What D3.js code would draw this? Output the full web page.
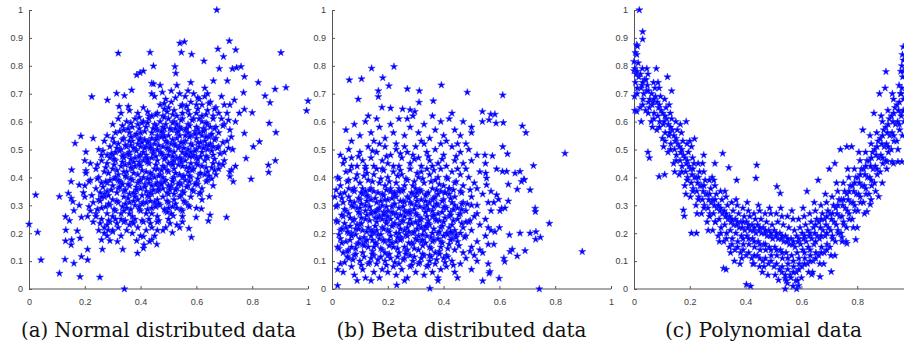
<!DOCTYPE html>
<html>
<head>
<meta charset="utf-8">
<script src="https://cdn.jsdelivr.net/npm/d3@7"></script>
<style>
  body { margin: 0; background: #fff; }
  svg text.caption { font-family: "DejaVu Serif", "Liberation Serif", "Noto Serif", "Tinos", "Times New Roman", Times, serif; }
</style>
</head>
<body>
<svg id="chart" width="904" height="342"></svg>
<script>
// (a) normal distributed data: outliers first, then the dense core
const normalData = [
  [.673,1.0],[0,.232],[.024,.337],[.031,.203],[.043,.104],[.109,.331],[.109,.056],[.254,.042],[.183,.044],[.342,0],
  [.129,.106],[.161,.092],[.188,.116],[.21,.104],[.21,.142],[.131,.172],[.153,.176],[.151,.158],[.132,.211],[.173,.208],
  [.183,.182],[.145,.245],[.131,.259],[.188,.257],[.161,.281],[.141,.343],[.151,.325],[.157,.313],[.153,.427],[.151,.385],
  [.18,.373],[.165,.522],[.186,.548],[.204,.491],[.204,.424],[.204,.415],[.225,.689],[.32,.845],[.434,.848],[.446,.799],
  [.386,.767],[.398,.775],[.41,.781],[.314,.701],[.342,.693],[.368,.713],[.281,.677],[.323,.654],[.356,.654],[.44,.737],
  [.446,.735],[.478,.705],[.523,.797],[.526,.773],[.541,.881],[.557,.886],[.546,.848],[.583,.841],[.627,.817],[.677,.86],
  [.718,.889],[.697,.833],[.741,.857],[.729,.789],[.744,.793],[.76,.797],[.682,.79],[.711,.746],[.661,.746],[.772,.761],
  [.822,.74],[.846,.692],[.864,.668],[.882,.716],[.903,.847],[.921,.722],[.995,.639],[1,.674],[.861,.594],[.826,.528],
  [.804,.51],[.778,.468],[.796,.394],[.885,.561],[.883,.46],[.858,.444],[.859,.418],[.772,.558],[.8,.632],[.772,.644],
  [.754,.63],[.769,.704],[.736,.677],[.72,.403],[.732,.385],[.726,.427],[.708,.257],[.681,.448],[.646,.331],[.643,.244],
  [.649,.265],[.618,.287],[.599,.257],[.582,.185],[.573,.217],[.55,.24],[.54,.22],[.514,.202],[.49,.22],[.517,.262],
  [.458,.16],[.44,.176],[.432,.17],[.41,.188],[.41,.146],[.412,.158],[.389,.128],[.386,.173],[.336,.142],[.317,.17],
  [.29,.173],[.26,.176],[.263,.142],[.284,.211],[.27,.2],[.3,.205],
  [.44,.70],[.45,.69],[.47,.66],[.49,.68],[.51,.67],[.52,.64],[.54,.70],[.55,.66],[.56,.69],[.57,.64],[.58,.67],[.59,.70],
  [.60,.63],[.61,.68],[.62,.66],[.63,.69],[.64,.64],[.65,.67],[.66,.62],[.67,.65],[.46,.63],[.48,.62],[.50,.65],[.53,.62],
  [.55,.63],[.57,.71],[.60,.66],[.62,.62],[.64,.70],[.68,.63],[.70,.66],[.41,.65],[.39,.63],[.36,.64],[.43,.62],[.33,.63],
  [.51,.71],[.47,.73],[.53,.73],[.58,.74],[.63,.72],[.69,.69],[.71,.63],[.72,.66],
  [.30,.59],[.32,.61],[.34,.57],[.35,.60],[.37,.58],[.38,.61],[.40,.56],[.41,.60],[.42,.58],[.43,.61],[.44,.56],[.45,.59],
  [.46,.57],[.47,.60],[.48,.56],[.49,.59],[.50,.61],[.51,.57],[.52,.60],[.53,.56],[.54,.58],[.55,.61],[.56,.57],[.57,.59],
  [.58,.55],[.59,.61],[.60,.58],[.61,.56],[.62,.60],[.63,.57],[.64,.59],[.65,.55],[.66,.61],[.67,.58],[.68,.56],[.70,.59],
  [.72,.57],[.74,.60],[.36,.56],[.39,.59],[.44,.62],[.48,.58],[.53,.59],[.57,.56],[.61,.61],[.65,.58],[.69,.61],[.31,.56],
  [.28,.55],[.46,.55],[.50,.55],
  [.25,.50],[.27,.53],[.29,.51],[.30,.54],[.31,.49],[.32,.52],[.33,.50],[.34,.54],[.35,.51],[.36,.49],[.37,.53],[.38,.50],
  [.39,.52],[.40,.54],[.41,.49],[.42,.51],[.43,.53],[.44,.50],[.45,.52],[.46,.54],[.47,.49],[.48,.51],[.49,.53],[.50,.50],
  [.51,.52],[.52,.49],[.53,.54],[.54,.51],[.55,.49],[.56,.53],[.57,.50],[.58,.52],[.59,.48],[.60,.54],[.61,.51],[.62,.49],
  [.63,.53],[.64,.50],[.65,.52],[.66,.48],[.67,.54],[.68,.51],[.70,.49],[.71,.53],[.73,.50],[.34,.48],[.38,.55],[.42,.48],
  [.46,.50],[.50,.48],[.54,.55],[.58,.49],[.62,.55],[.66,.51],[.44,.54],[.48,.55],[.52,.52],[.40,.51],[.36,.53],[.56,.55],
  [.60,.50],[.28,.48],[.23,.54],[.26,.48],
  [.22,.45],[.24,.43],[.26,.46],[.27,.42],[.28,.45],[.29,.47],[.30,.43],[.31,.46],[.32,.41],[.33,.44],[.34,.47],[.35,.42],
  [.36,.45],[.37,.43],[.38,.47],[.39,.41],[.40,.44],[.41,.46],[.42,.42],[.43,.45],[.44,.47],[.45,.43],[.46,.46],[.47,.41],
  [.48,.44],[.49,.47],[.50,.42],[.51,.45],[.52,.43],[.53,.47],[.54,.41],[.55,.44],[.56,.46],[.57,.42],[.58,.45],[.59,.43],
  [.60,.47],[.61,.41],[.62,.44],[.63,.46],[.64,.42],[.66,.45],[.68,.43],[.70,.46],[.72,.42],[.74,.44],[.36,.48],[.40,.48],
  [.44,.41],[.48,.48],[.52,.46],[.56,.48],[.60,.45],[.64,.47],[.46,.43],[.50,.45],[.54,.47],[.42,.47],[.38,.44],[.34,.42],
  [.30,.48],[.67,.41],[.20,.46],
  [.20,.37],[.22,.39],[.24,.36],[.25,.40],[.26,.38],[.28,.35],[.29,.39],[.30,.37],[.31,.40],[.32,.36],[.33,.38],[.34,.35],
  [.35,.40],[.36,.37],[.37,.39],[.38,.34],[.39,.38],[.40,.36],[.41,.40],[.42,.35],[.43,.38],[.44,.37],[.45,.40],[.46,.35],
  [.47,.38],[.48,.36],[.49,.39],[.50,.34],[.51,.37],[.52,.40],[.53,.36],[.54,.38],[.55,.35],[.56,.39],[.57,.37],[.58,.40],
  [.59,.35],[.60,.38],[.62,.36],[.64,.39],[.66,.37],[.44,.34],[.48,.40],[.52,.34],[.40,.39],[.36,.34],[.32,.39],[.28,.38],
  [.46,.38],[.50,.37],[.55,.40],[.61,.34],[.63,.41],[.27,.34],
  [.18,.30],[.20,.33],[.22,.28],[.23,.31],[.24,.27],[.25,.32],[.26,.29],[.27,.33],[.28,.27],[.29,.30],[.30,.32],[.31,.28],
  [.32,.31],[.33,.27],[.34,.33],[.35,.29],[.36,.31],[.37,.26],[.38,.30],[.39,.32],[.40,.28],[.41,.31],[.42,.27],[.43,.33],
  [.44,.29],[.45,.31],[.46,.26],[.47,.30],[.48,.33],[.49,.28],[.50,.31],[.51,.27],[.52,.32],[.53,.29],[.54,.33],[.55,.28],
  [.56,.31],[.57,.30],[.58,.33],[.60,.29],[.62,.32],[.26,.33],[.30,.26],[.34,.28],[.38,.33],[.42,.31],[.46,.32],[.50,.29],
  [.44,.27],[.36,.27],[.21,.26],
  [.23,.24],[.25,.21],[.26,.25],[.27,.22],[.28,.19],[.29,.24],[.30,.21],[.31,.25],[.32,.22],[.33,.19],[.34,.24],[.35,.21],
  [.36,.23],[.37,.20],[.38,.25],[.39,.22],[.40,.19],[.41,.24],[.42,.21],[.43,.25],[.44,.22],[.45,.19],[.46,.24],[.48,.21],
  [.50,.25],[.53,.23],[.55,.26],[.24,.26],[.28,.23],[.33,.25],[.37,.24],[.46,.21],
  [.395,.455],[.415,.535],[.435,.395],[.455,.575],[.475,.425],[.495,.505],[.515,.385],[.535,.445],[.555,.525],[.575,.405],
  [.595,.565],[.615,.475],[.635,.515],[.655,.435],[.345,.445],[.365,.515],[.385,.365],[.405,.595],[.425,.335],[.445,.485],
  [.465,.365],[.485,.615],[.505,.355],[.525,.575],[.545,.335],[.565,.435],[.585,.475],[.605,.395],[.625,.575],[.645,.545],
  [.325,.385],[.355,.325],[.375,.455],[.395,.285],[.415,.375],[.435,.515],[.455,.305],[.475,.545],[.495,.275],[.515,.455],
  [.455,.625],[.485,.645],[.515,.625],[.545,.655],[.575,.625],[.605,.645],[.635,.625],[.665,.645],[.425,.635],[.395,.615],
  [.335,.585],[.365,.595],[.395,.575],[.425,.595],[.455,.585],[.485,.575],[.515,.595],[.545,.575],[.575,.585],[.605,.575],
  [.635,.595],[.665,.575],[.695,.585],[.715,.605],
  [.305,.525],[.335,.535],[.365,.545],[.395,.535],[.425,.525],[.455,.535],[.485,.545],[.515,.535],[.545,.525],[.575,.545],
  [.605,.525],[.635,.545],[.665,.535],[.695,.525],[.725,.545],
  [.265,.495],[.295,.485],[.325,.495],[.355,.485],[.385,.495],[.415,.505],[.445,.495],[.475,.485],[.505,.495],[.535,.505],
  [.565,.485],[.595,.495],[.625,.505],[.655,.495],[.685,.485],[.715,.505],
  [.245,.445],[.275,.435],[.305,.445],[.335,.455],[.365,.435],[.395,.445],[.425,.455],[.455,.445],[.485,.435],[.515,.445],
  [.545,.455],[.575,.435],[.605,.445],[.635,.435],[.665,.425],[.695,.445],
  [.215,.385],[.245,.395],[.275,.385],[.305,.395],[.335,.375],[.365,.395],[.395,.385],[.425,.395],[.455,.375],[.485,.385],
  [.515,.395],[.545,.375],[.575,.385],[.605,.375],[.635,.385],[.655,.395],
  [.195,.345],[.225,.335],[.255,.345],[.285,.335],[.315,.345],[.345,.355],[.375,.345],[.405,.335],[.435,.345],[.465,.355],
  [.495,.345],[.525,.355],[.555,.345],[.585,.355],[.615,.345],
  [.215,.295],[.245,.285],[.275,.295],[.305,.285],[.335,.295],[.365,.285],[.395,.295],[.425,.285],[.455,.295],[.485,.285],
  [.515,.295],[.545,.285],[.575,.295],
  [.255,.235],[.285,.245],[.315,.235],[.345,.245],[.375,.235],[.405,.245],[.435,.235],[.465,.245],[.505,.235],
  [.325,.565],[.355,.575],[.385,.555],[.415,.565],[.445,.575],[.475,.565],[.505,.575],[.535,.565],[.565,.575],[.595,.555],
  [.625,.565],[.655,.555],
  [.315,.505],[.345,.515],[.375,.505],[.405,.525],[.435,.505],[.465,.515],[.495,.525],[.525,.515],[.555,.505],[.585,.515],
  [.615,.525],[.645,.515],[.675,.505],
  [.305,.465],[.335,.475],[.365,.465],[.395,.475],[.425,.465],[.455,.475],[.485,.465],[.515,.475],[.545,.465],[.575,.475],
  [.605,.465],[.635,.475],[.665,.465],
  [.285,.415],[.315,.425],[.345,.405],[.375,.415],[.405,.425],[.435,.415],[.465,.405],[.495,.425],[.525,.415],[.555,.405],
  [.585,.425],[.615,.415],[.645,.405],
  [.265,.365],[.295,.355],[.325,.365],[.355,.375],[.385,.355],[.415,.365],[.445,.355],[.475,.375],[.505,.365],[.535,.375],
  [.565,.365],[.595,.375],
  [.255,.315],[.285,.305],[.315,.315],[.345,.305],[.375,.315],[.405,.305],[.435,.315],[.465,.305],[.495,.315],[.525,.305],
  [.555,.315],
  [.485,.665],[.525,.685],[.565,.655],[.605,.685],[.645,.665],[.545,.605],[.495,.635],[.585,.605]
];

// (b) beta distributed data: outliers first, then the dense core
const betaData = [
  [.222,.797],[.142,.791],[.182,.757],[.106,.753],[.062,.749],[.204,.728],[.27,.717],[.313,.71],[.166,.71],[.166,.689],
  [.094,.68],[.392,.731],[.363,.674],[.485,.705],[.612,.695],[.312,.669],[.179,.651],[.21,.648],[.253,.645],[.28,.642],
  [.297,.636],[.539,.636],[.569,.626],[.584,.626],[.539,.6],[.563,.606],[.588,.594],[.614,.596],[.682,.584],[.695,.56],
  [.835,.486],[.722,.442],[.897,.134],[.779,.235],[.743,0],[.351,.002],[.232,.014],[.02,.012],[.71,.355],[.728,.289],
  [.729,.277],[.731,.205],[.747,.185],[.73,.178],[.71,.2],[.674,.2],[.692,.137],[.664,.118],[.638,.134],[.646,.142],
  [.619,.098],[.616,.11],[.599,.038],[.54,.029],[.566,.062],[.563,.056],[.674,.421],[.689,.391],[.679,.385],[.688,.393],
  [.656,.415],[.626,.421],[.611,.421],[.632,.375],[.664,.357],[.632,.315],[.608,.289],[.602,.28],[.59,.337],[.612,.51],
  [.629,.484],[.575,.477],[.548,.48],[.597,.321],[.636,.194],[.584,.205],[.56,.22],[.554,.397],[.551,.415],[.554,.373],
  [.5,.3],[.52,.27],[.55,.19],[.57,.28],[.58,.16],[.53,.14],[.56,.09],[.51,.12],[.49,.24],[.58,.31],[.6,.22],[.62,.29],
  [.57,.35],[.52,.36],[.59,.43],[.55,.45],[.5,.58],[.47,.6],[.43,.63],
  [.05,.57],[.08,.59],[.10,.55],[.12,.60],[.14,.56],[.16,.61],[.17,.58],[.19,.54],[.21,.59],[.22,.56],[.24,.61],[.26,.55],
  [.28,.58],[.29,.62],[.31,.56],[.33,.59],[.35,.54],[.37,.57],[.39,.60],[.40,.55],[.42,.61],[.44,.57],[.46,.55],[.15,.53],
  [.23,.52],[.32,.53],[.41,.53],[.07,.53],[.36,.62],[.27,.61],[.48,.52],[.50,.56],[.13,.62],
  [.03,.48],[.04,.45],[.06,.50],[.07,.47],[.09,.44],[.10,.49],[.11,.46],[.13,.51],[.14,.47],[.15,.44],[.16,.49],[.18,.46],
  [.19,.51],[.20,.45],[.21,.48],[.23,.50],[.24,.44],[.25,.47],[.27,.49],[.28,.45],[.30,.51],[.31,.47],[.32,.44],[.34,.49],
  [.35,.46],[.37,.50],[.38,.45],[.40,.48],[.41,.44],[.43,.51],[.44,.46],[.46,.49],[.47,.45],[.49,.50],[.50,.46],[.52,.48],
  [.12,.44],[.17,.52],[.26,.51],[.33,.52],[.39,.52],[.45,.52],[.22,.44],[.29,.48],[.36,.44],
  [.02,.40],[.03,.37],[.05,.42],[.06,.39],[.08,.36],[.09,.41],[.10,.38],[.12,.43],[.13,.39],[.14,.36],[.15,.41],[.17,.38],
  [.18,.43],[.19,.37],[.20,.40],[.22,.42],[.23,.38],[.24,.36],[.25,.41],[.27,.39],[.28,.43],[.29,.37],[.31,.40],[.32,.42],
  [.33,.38],[.35,.41],[.36,.36],[.37,.39],[.39,.43],[.40,.37],[.41,.40],[.43,.42],[.44,.38],[.46,.41],[.47,.37],[.49,.40],
  [.51,.38],[.53,.42],[.11,.36],[.21,.36],[.26,.37],[.30,.36],[.34,.43],[.38,.40],[.42,.36],[.16,.43],[.07,.44],[.45,.43],
  [.48,.43],
  [.01,.33],[.02,.30],[.03,.34],[.04,.31],[.05,.28],[.06,.33],[.07,.30],[.08,.35],[.09,.29],[.10,.32],[.11,.34],[.12,.30],
  [.13,.33],[.14,.28],[.15,.35],[.16,.31],[.17,.29],[.18,.34],[.19,.32],[.20,.28],[.21,.35],[.22,.30],[.23,.33],[.24,.29],
  [.25,.35],[.26,.31],[.27,.33],[.28,.28],[.29,.34],[.30,.30],[.31,.35],[.32,.32],[.33,.29],[.34,.34],[.35,.31],[.36,.28],
  [.37,.33],[.38,.30],[.39,.35],[.40,.32],[.41,.29],[.42,.34],[.43,.31],[.44,.33],[.45,.29],[.46,.35],[.47,.31],[.48,.28],
  [.50,.33],[.52,.30],[.54,.34],[.56,.31],[.08,.31],[.12,.35],[.16,.28],[.20,.32],[.24,.35],[.28,.31],[.32,.35],[.36,.32],
  [.40,.29],[.44,.30],[.18,.30],[.22,.34],[.26,.28],[.30,.33],[.34,.30],[.38,.34],[.14,.32],[.10,.29],[.06,.36],[.42,.36],
  [.02,.24],[.03,.21],[.04,.26],[.05,.22],[.06,.27],[.07,.20],[.08,.25],[.09,.23],[.10,.27],[.11,.21],[.12,.25],[.13,.22],
  [.14,.27],[.15,.20],[.16,.24],[.17,.26],[.18,.22],[.19,.27],[.20,.21],[.21,.25],[.22,.23],[.23,.27],[.24,.20],[.25,.24],
  [.26,.26],[.27,.22],[.28,.25],[.29,.20],[.30,.27],[.31,.23],[.32,.25],[.33,.21],[.34,.26],[.35,.23],[.36,.20],[.37,.25],
  [.38,.27],[.39,.22],[.40,.24],[.41,.20],[.42,.26],[.43,.23],[.44,.21],[.45,.25],[.46,.27],[.47,.22],[.48,.24],[.50,.21],
  [.51,.26],[.53,.23],[.55,.25],[.57,.21],[.10,.23],[.14,.21],[.18,.25],[.22,.27],[.26,.21],[.30,.24],[.34,.22],[.38,.20],
  [.42,.22],[.20,.26],[.24,.23],[.16,.21],[.28,.27],[.32,.22],[.36,.26],[.12,.28],[.46,.20],[.06,.20],
  [.02,.15],[.03,.18],[.04,.13],[.05,.17],[.06,.14],[.07,.19],[.08,.12],[.09,.16],[.10,.18],[.11,.13],[.12,.17],[.13,.15],
  [.14,.19],[.15,.12],[.16,.16],[.17,.18],[.18,.14],[.19,.17],[.20,.12],[.21,.19],[.22,.15],[.23,.17],[.24,.13],[.25,.18],
  [.26,.15],[.27,.19],[.28,.12],[.29,.16],[.30,.18],[.31,.14],[.32,.17],[.33,.12],[.34,.19],[.35,.15],[.36,.17],[.37,.13],
  [.38,.18],[.39,.15],[.40,.19],[.41,.12],[.42,.16],[.43,.18],[.44,.14],[.45,.17],[.47,.13],[.48,.19],[.50,.15],[.52,.17],
  [.54,.13],[.56,.16],[.15,.15],[.19,.13],[.23,.20],[.27,.14],[.31,.19],[.35,.12],[.39,.17],[.11,.16],[.07,.15],[.43,.20],
  [.03,.09],[.04,.06],[.06,.11],[.07,.08],[.08,.05],[.10,.10],[.11,.07],[.12,.04],[.13,.09],[.14,.11],[.15,.06],[.16,.09],
  [.17,.04],[.18,.07],[.19,.10],[.20,.06],[.21,.11],[.22,.08],[.23,.05],[.24,.09],[.25,.07],[.26,.11],[.27,.04],[.28,.08],
  [.29,.10],[.30,.06],[.31,.09],[.32,.11],[.33,.05],[.34,.08],[.35,.10],[.36,.06],[.37,.09],[.38,.04],[.39,.07],[.40,.11],
  [.41,.08],[.43,.10],[.44,.06],[.46,.09],[.48,.11],[.50,.07],[.52,.10],[.09,.03],[.14,.03],[.26,.03],[.38,.03],[.45,.04],
  [.02,.07],
  [.155,.255],[.175,.315],[.195,.235],[.215,.295],[.235,.255],[.255,.315],[.275,.235],[.295,.285],[.315,.255],[.335,.315],
  [.165,.195],[.185,.275],[.205,.175],[.225,.335],[.245,.185],[.265,.275],[.285,.165],[.305,.345],[.325,.175],[.345,.245],
  [.105,.255],[.125,.315],[.145,.175],[.085,.215],[.365,.295],[.385,.245],[.405,.345],[.425,.275],[.445,.185],[.465,.305],
  [.025,.395],[.055,.385],[.085,.395],[.115,.405],[.145,.385],[.175,.395],[.205,.385],[.235,.405],[.265,.395],[.295,.385],
  [.325,.395],[.355,.385],[.385,.375],[.415,.395],[.445,.385],
  [.015,.355],[.045,.345],[.075,.355],[.105,.345],[.135,.355],[.165,.345],[.195,.355],[.225,.345],[.255,.355],[.285,.345],
  [.315,.355],[.345,.345],[.375,.355],[.405,.345],[.435,.355],[.465,.345],[.495,.355],
  [.015,.295],[.045,.285],[.075,.295],[.105,.305],[.135,.295],[.165,.285],[.195,.295],[.225,.305],[.255,.295],[.285,.305],
  [.315,.295],[.345,.285],[.375,.305],[.405,.295],[.435,.285],[.465,.285],[.485,.305],
  [.015,.245],[.045,.235],[.075,.245],[.105,.235],[.135,.245],[.165,.255],[.195,.245],[.225,.235],[.255,.245],[.285,.235],
  [.315,.245],[.345,.235],[.375,.245],[.405,.255],[.435,.245],[.465,.235],[.495,.245],
  [.025,.195],[.055,.205],[.085,.195],[.115,.185],[.145,.205],[.175,.195],[.205,.205],[.235,.185],[.265,.195],[.295,.205],
  [.325,.195],[.355,.185],[.385,.205],[.415,.195],[.445,.195],[.475,.185],
  [.025,.145],[.055,.135],[.085,.145],[.115,.155],[.145,.135],[.175,.145],[.205,.155],[.235,.145],[.265,.135],[.295,.145],
  [.325,.155],[.355,.145],[.385,.135],[.415,.145],[.455,.155],[.495,.135],
  [.045,.095],[.075,.105],[.105,.085],[.135,.095],[.165,.105],[.195,.085],[.225,.095],[.255,.105],[.285,.085],[.315,.095],
  [.345,.085],[.375,.105],[.405,.095],[.435,.085],
  [.045,.465],[.095,.475],[.145,.495],[.195,.475],[.245,.485],[.295,.465],[.345,.475],[.395,.465],[.445,.475],
  [.035,.325],[.065,.315],[.095,.325],[.125,.335],[.155,.325],[.185,.335],[.215,.325],[.245,.315],[.275,.325],[.305,.315],
  [.335,.335],[.365,.325],[.395,.315],[.425,.325],
  [.035,.265],[.065,.255],[.095,.275],[.125,.265],[.155,.275],[.185,.265],[.215,.275],[.245,.265],[.275,.275],[.305,.265],
  [.335,.275],[.365,.265],[.395,.275],[.425,.265],[.455,.265],
  [.035,.215],[.065,.225],[.095,.215],[.125,.205],[.155,.225],[.185,.215],[.215,.225],[.245,.215],[.275,.205],[.305,.215],
  [.335,.225],[.365,.215],[.395,.225],[.425,.205],
  [.035,.165],[.065,.175],[.095,.165],[.125,.175],[.155,.165],[.185,.175],[.215,.165],[.245,.175],[.275,.165],[.305,.175],
  [.335,.165],[.365,.175],[.395,.165],[.425,.175],
  [.055,.115],[.085,.125],[.115,.115],[.145,.125],[.175,.115],[.205,.125],[.235,.115],[.265,.125],[.295,.115],[.325,.125],
  [.355,.115],[.385,.125],[.415,.115],
  [.065,.425],[.125,.415],[.185,.425],[.245,.425],[.305,.415],[.365,.425]
];

// (c) polynomial data: outliers first, then the U-shaped band
const polyData = [
  [.019,1.0],[.031,.922],[.031,.895],[.01,.875],[.012,.87],[.005,.847],[0,.815],[0,.782],[.01,.636],[.003,.64],
  [.187,.60],[.217,.538],[.05,.49],[.055,.47],[.09,.403],[.11,.41],[.177,.283],[.18,.261],[.206,.20],[.224,.20],
  [.318,.486],[.34,.435],[.368,.39],[.44,.444],[.437,.397],[.403,.016],[.418,.01],[.321,.074],[.33,.07],[.512,.367],
  [.524,.343],[.542,0],[.583,0],[.59,.012],[.518,.032],[.542,.038],[.637,.052],[.667,.044],[.707,.062],[.763,.163],
  [.795,.177],[.745,.185],[.877,.331],[.835,.277],[.847,.303],[.763,.51],[.903,.779],[.96,.456],[.946,.456],[.925,.456],
  [.907,.456],[.965,.868],[.965,.82],[.965,.78],[.55,.02],[.57,.01],[.58,.03],[.56,.05],[.53,.06],[.48,.05],
  [.45,.08],[.43,.09],[.46,.06],[.38,.09],[.36,.10],[.08,.79],[.12,.76],[.135,.71],[.20,.53],[.25,.48],
  [.29,.45],[.28,.40],[.62,.35],[.66,.39],[.70,.43],[.72,.45],[.74,.50],[.78,.51],[.82,.57],[.86,.63],
  [.88,.70],[.90,.72],[.93,.45],[.89,.38],[.85,.32],[.80,.22],[.76,.17],[.72,.12],[.68,.09],[.64,.06],[.6,.04],
  [.002,.69],[.012,.72],[.005,.74],[.017,.76],[.008,.77],[.003,.79],[.015,.81],[.01,.84],
  [.022,.65],[.032,.68],[.025,.72],[.037,.75],[.028,.73],[.023,.77],[.035,.70],[.03,.79],
  [.042,.64],[.052,.67],[.045,.71],[.057,.68],[.048,.73],[.043,.75],[.055,.65],[.05,.77],
  [.062,.60],[.072,.63],[.065,.66],[.077,.69],[.068,.67],[.063,.70],[.075,.72],[.07,.74],
  [.082,.57],[.092,.60],[.085,.62],[.097,.64],[.088,.65],[.083,.67],[.095,.69],[.09,.72],
  [.102,.54],[.112,.56],[.105,.59],[.117,.61],[.108,.60],[.103,.63],[.115,.65],[.11,.68],
  [.122,.49],[.132,.52],[.125,.55],[.137,.57],[.128,.56],[.123,.59],[.135,.61],[.13,.63],
  [.142,.45],[.152,.48],[.145,.50],[.157,.52],[.148,.53],[.143,.55],[.155,.57],[.15,.60],
  [.162,.41],[.172,.44],[.165,.46],[.177,.48],[.168,.49],[.163,.51],[.175,.53],[.17,.56],
  [.182,.37],[.192,.40],[.185,.42],[.197,.44],[.188,.45],[.183,.47],[.195,.49],[.19,.52],
  [.202,.33],[.212,.36],[.205,.38],[.217,.40],[.208,.41],[.203,.43],[.215,.45],[.21,.47],
  [.222,.30],[.232,.33],[.225,.35],[.237,.37],[.228,.38],[.223,.40],[.235,.42],[.23,.45],
  [.242,.27],[.252,.30],[.245,.32],[.257,.34],[.248,.35],[.243,.37],[.255,.39],[.25,.42],
  [.262,.24],[.272,.27],[.265,.29],[.277,.31],[.268,.32],[.263,.34],[.275,.36],[.27,.39],
  [.282,.21],[.292,.24],[.285,.27],[.297,.29],[.288,.30],[.283,.32],[.295,.34],[.29,.37],
  [.302,.19],[.312,.22],[.305,.25],[.317,.27],[.308,.28],[.303,.30],[.315,.32],[.31,.35],
  [.322,.17],[.332,.20],[.325,.23],[.337,.25],[.328,.26],[.323,.28],[.335,.30],[.33,.33],
  [.342,.15],[.352,.18],[.345,.21],[.357,.23],[.348,.24],[.343,.26],[.355,.28],[.35,.31],
  [.362,.14],[.372,.17],[.365,.20],[.377,.22],[.368,.23],[.363,.25],[.375,.27],[.37,.30],
  [.382,.13],[.392,.16],[.385,.19],[.397,.21],[.388,.22],[.383,.24],[.395,.26],[.39,.29],
  [.402,.12],[.412,.16],[.405,.19],[.417,.21],[.408,.22],[.403,.24],[.415,.26],[.41,.28],
  [.422,.11],[.432,.15],[.425,.18],[.437,.20],[.428,.21],[.423,.23],[.435,.25],[.43,.27],
  [.442,.12],[.452,.14],[.445,.17],[.457,.20],[.448,.21],[.443,.23],[.455,.25],[.45,.28],
  [.462,.10],[.472,.14],[.465,.16],[.477,.19],[.468,.20],[.463,.22],[.475,.24],[.47,.27],
  [.482,.09],[.492,.12],[.485,.15],[.497,.18],[.488,.19],[.483,.21],[.495,.23],[.49,.27],
  [.502,.08],[.512,.12],[.505,.15],[.517,.18],[.508,.19],[.503,.21],[.515,.24],[.51,.27],
  [.522,.07],[.532,.11],[.525,.14],[.537,.17],[.528,.18],[.523,.20],[.535,.23],[.53,.26],
  [.542,.05],[.552,.09],[.545,.13],[.557,.16],[.548,.17],[.543,.19],[.555,.22],[.55,.26],
  [.562,.04],[.572,.08],[.565,.12],[.577,.15],[.568,.16],[.563,.18],[.575,.21],[.57,.25],
  [.582,.06],[.592,.09],[.585,.13],[.597,.16],[.588,.17],[.583,.19],[.595,.22],[.59,.25],
  [.602,.08],[.612,.11],[.605,.14],[.617,.17],[.608,.18],[.603,.20],[.615,.23],[.61,.26],
  [.622,.09],[.632,.12],[.625,.15],[.637,.18],[.628,.19],[.623,.21],[.635,.24],[.63,.27],
  [.642,.10],[.652,.13],[.645,.16],[.657,.19],[.648,.20],[.643,.22],[.655,.25],[.65,.28],
  [.662,.12],[.672,.15],[.665,.18],[.677,.21],[.668,.22],[.663,.24],[.675,.27],[.67,.30],
  [.682,.13],[.692,.16],[.685,.19],[.697,.22],[.688,.23],[.683,.25],[.695,.28],[.69,.31],
  [.702,.15],[.712,.18],[.705,.21],[.717,.24],[.708,.25],[.703,.27],[.715,.30],[.71,.33],
  [.722,.17],[.732,.20],[.725,.23],[.737,.26],[.728,.27],[.723,.29],[.735,.32],[.73,.35],
  [.742,.20],[.752,.23],[.745,.26],[.757,.29],[.748,.30],[.743,.32],[.755,.35],[.75,.38],
  [.762,.22],[.772,.25],[.765,.28],[.777,.31],[.768,.32],[.763,.34],[.775,.37],[.77,.40],
  [.782,.25],[.792,.28],[.785,.31],[.797,.34],[.788,.35],[.783,.37],[.795,.40],[.79,.43],
  [.802,.28],[.812,.31],[.805,.34],[.817,.37],[.808,.38],[.803,.40],[.815,.43],[.81,.46],
  [.822,.31],[.832,.34],[.825,.37],[.837,.40],[.828,.41],[.823,.43],[.835,.46],[.83,.49],
  [.842,.34],[.852,.37],[.845,.40],[.857,.43],[.848,.44],[.843,.46],[.855,.49],[.85,.52],
  [.862,.38],[.872,.41],[.865,.44],[.877,.47],[.868,.48],[.863,.50],[.875,.53],[.87,.56],
  [.882,.42],[.892,.45],[.885,.48],[.897,.51],[.888,.52],[.883,.54],[.895,.57],[.89,.60],
  [.902,.46],[.912,.49],[.905,.52],[.917,.55],[.908,.56],[.903,.58],[.915,.61],[.91,.64],
  [.922,.50],[.932,.53],[.925,.56],[.937,.59],[.928,.60],[.923,.62],[.935,.65],[.93,.68],
  [.942,.53],[.952,.57],[.945,.60],[.957,.63],[.948,.64],[.943,.66],[.955,.70],[.95,.73],
  [.962,.55],[.968,.60],[.965,.64],[.966,.68],[.96,.72],[.963,.76],[.96,.80],[.962,.84],
  [.026,.60],[.046,.79],[.066,.58],[.086,.74],[.106,.51],[.126,.66],[.146,.42],[.166,.59],[.186,.34],[.206,.51],
  [.226,.27],[.246,.45],[.266,.21],[.286,.39],[.306,.17],[.326,.35],[.346,.13],[.366,.32],[.386,.11],[.406,.31],
  [.426,.09],[.446,.30],[.466,.08],[.486,.29],[.506,.05],[.526,.29],[.546,.03],[.566,.28],[.586,.03],[.606,.29],
  [.626,.06],[.646,.31],[.666,.09],[.686,.34],[.706,.12],[.726,.38],[.746,.17],[.766,.43],[.786,.22],[.806,.49],
  [.826,.27],[.846,.55],[.866,.35],[.886,.62],[.906,.43],[.926,.70],[.946,.50],[.956,.78],
  [.011,.70],[.011,.78],[.031,.66],[.031,.74],[.051,.63],[.051,.71],[.071,.61],[.071,.68],[.091,.58],[.091,.66],
  [.111,.53],[.111,.62],[.131,.50],[.131,.58],[.151,.46],[.151,.54],[.171,.42],[.171,.50],[.191,.39],[.191,.46],
  [.211,.35],[.211,.43],[.231,.32],[.231,.40],[.251,.29],[.251,.37],[.271,.26],[.271,.34],[.291,.24],[.291,.32],
  [.311,.20],[.311,.29],[.331,.18],[.331,.27],[.351,.16],[.351,.25],[.371,.15],[.371,.24],[.391,.14],[.391,.18],
  [.391,.24],[.411,.13],[.411,.18],[.411,.23],[.431,.12],[.431,.17],[.431,.22],[.451,.11],[.451,.16],[.451,.22],
  [.471,.11],[.471,.16],[.471,.21],[.491,.10],[.491,.14],[.491,.20],[.511,.09],[.511,.14],[.511,.20],[.531,.08],
  [.531,.13],[.531,.19],[.551,.07],[.551,.11],[.551,.18],[.571,.06],[.571,.10],[.571,.17],[.591,.07],[.591,.11],
  [.591,.18],[.611,.09],[.611,.13],[.611,.19],[.631,.10],[.631,.14],[.631,.20],[.651,.11],[.651,.17],[.651,.23],
  [.671,.13],[.671,.19],[.671,.25],[.691,.14],[.691,.20],[.691,.26],
  [.711,.19],[.711,.27],[.731,.21],[.731,.30],[.751,.24],[.751,.32],[.771,.27],[.771,.35],[.791,.30],[.791,.38],
  [.811,.33],[.811,.41],[.831,.36],[.831,.44],[.851,.39],[.851,.47],[.871,.43],[.871,.51],[.891,.47],[.891,.55],
  [.911,.51],[.911,.59],[.931,.55],[.931,.63],[.951,.59],[.951,.67],[.958,.62],[.958,.70]
];

const xTicks = [0, 0.2, 0.4, 0.6, 0.8, 1];
const yTicks = [0, 0.1, 0.2, 0.3, 0.4, 0.5, 0.6, 0.7, 0.8, 0.9, 1];
const captions = ["(a) Normal distributed data", "(b) Beta distributed data", "(c) Polynomial data"];

const svg = d3.select("#chart");
const plotTop = 10, plotBottom = 289, svgWidth = 904;
const tickFont = '"Liberation Sans", Arial, Helvetica, sans-serif';

const panels = [
  { data: normalData, left: 29, right: 308, capW: 275 },
  { data: betaData, left: 332, right: 611, capW: 250 },
  { data: polyData, left: 634, right: 913, capW: 197 }
];

const star = d3.symbol().type(d3.symbolStar).size(16)();

panels.forEach((p, i) => {
  const x = d3.scaleLinear().domain([0, 1]).range([p.left, p.right]);
  const y = d3.scaleLinear().domain([0, 1]).range([plotBottom, plotTop]);

  const gx = svg.append("g")
    .attr("transform", `translate(0,${plotBottom})`)
    .call(d3.axisBottom(x).tickValues(xTicks.filter(t => x(t) < svgWidth - 4))
      .tickFormat(d => String(d)).tickSize(-3).tickSizeOuter(0).tickPadding(10));
  gx.select(".domain").attr("d", `M${p.left},0H${Math.min(p.right, svgWidth)}`);

  const gy = svg.append("g")
    .attr("transform", `translate(${p.left},0)`)
    .call(d3.axisLeft(y).tickValues(yTicks).tickFormat(d => String(d))
      .tickSize(-3).tickSizeOuter(0).tickPadding(6));

  [gx, gy].forEach(g => {
    g.attr("font-family", tickFont).attr("font-size", 9);
    g.selectAll(".tick text").attr("fill", "#404040");
    g.selectAll(".tick line").attr("stroke", "#555");
    g.select(".domain").attr("stroke", "#555");
  });

  svg.append("g")
    .selectAll("path")
    .data(p.data)
    .join("path")
    .attr("d", star)
    .attr("transform", d => `translate(${x(d[0])},${y(d[1])})`)
    .attr("fill", "#0000ff")
    .attr("stroke", "#2a2aff")
    .attr("stroke-width", 0.5);

  svg.append("text")
    .attr("class", "caption")
    .attr("x", (p.left + p.right) / 2 - 10)
    .attr("y", 337)
    .attr("text-anchor", "middle")
    .attr("font-size", 20)
    .attr("fill", "#111")
    .attr("textLength", p.capW)
    .attr("lengthAdjust", "spacingAndGlyphs")
    .text(captions[i]);
});
</script>
</body>
</html>
